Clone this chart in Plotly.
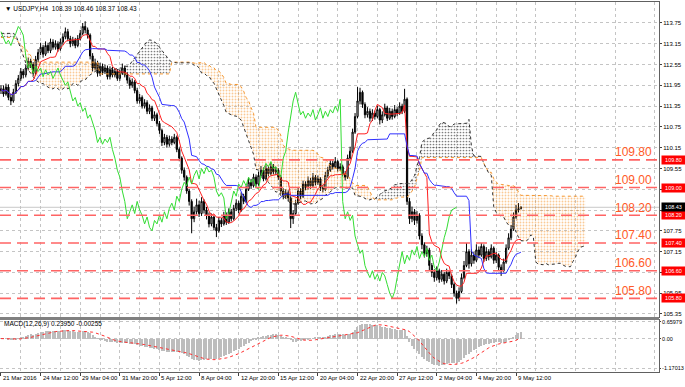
import plotly.graph_objects as go

# ---------------- data (USDJPY H4) ----------------
close = [
    111.85, 111.70, 111.90, 111.60, 111.50, 111.75, 112.00, 112.15, 112.35, 112.25,
    112.45, 112.65, 112.55, 112.30, 112.70, 112.90, 113.05, 112.85, 113.10, 112.95,
    113.20, 113.05, 113.15, 113.00, 113.20, 113.35, 113.50, 113.30, 113.15, 113.25,
    113.10, 113.30, 113.45, 113.65, 113.55, 113.40, 112.80, 112.45, 112.60, 112.30,
    112.50, 112.35, 112.45, 112.20, 112.40, 112.25, 112.35, 112.15, 112.30, 112.45,
    112.25, 112.10, 111.95, 112.05, 111.80, 111.50, 111.60, 111.35, 111.45, 111.20,
    111.30, 111.00, 111.10, 110.85, 110.65, 110.30, 110.45, 110.25, 110.40, 110.30,
    110.45, 110.10, 109.85, 109.50, 109.30, 108.90, 108.60, 108.10, 108.30, 108.50,
    108.25, 108.60, 108.35, 108.20, 107.95, 108.15, 107.85, 107.75, 108.05, 107.95,
    108.20, 108.00, 108.30, 108.10, 108.40, 108.55, 108.35, 108.75, 108.60, 108.95,
    109.15, 109.05, 109.30, 109.10, 109.35, 109.50, 109.25, 109.55, 109.40, 109.60,
    109.45, 109.50, 109.30, 108.90, 108.75, 108.85, 108.70, 108.10, 108.25, 108.55,
    108.90, 108.75, 109.10, 109.00, 109.20, 109.05, 109.30, 109.15, 109.25, 109.00,
    108.95, 109.35, 109.50, 109.70, 109.60, 109.75, 109.55, 109.60, 109.40, 109.30,
    109.85, 110.05, 110.60, 111.05, 111.50, 111.75, 111.40, 111.10, 111.20, 111.00,
    111.15, 111.05, 111.25, 110.95, 111.10, 111.30, 111.00, 111.20, 111.05, 111.25,
    111.15, 111.35, 111.20, 111.55, 108.60, 108.10, 108.30, 108.05, 108.20, 107.60,
    107.35, 107.10, 107.20, 106.75, 106.55, 106.40, 106.60, 106.35, 106.50, 106.30,
    106.55, 106.45, 106.20, 105.95, 105.80, 106.00, 106.40, 106.75, 107.15, 106.80,
    107.05, 106.90, 107.20, 107.05, 107.30, 106.95, 107.15, 107.00, 107.25, 106.90,
    107.05, 106.70, 106.60, 106.85, 107.25, 107.55, 107.80, 108.15, 108.35, 108.39,
    108.43,
]
open_ = [
    111.80, 111.85, 111.70, 111.90, 111.60, 111.50, 111.75, 112.00, 112.15, 112.35,
    112.25, 112.45, 112.65, 112.55, 112.30, 112.70, 112.90, 113.05, 112.85, 113.10,
    112.95, 113.20, 113.05, 113.15, 113.00, 113.20, 113.35, 113.50, 113.30, 113.15,
    113.25, 113.10, 113.30, 113.45, 113.65, 113.55, 113.40, 112.80, 112.45, 112.60,
    112.30, 112.50, 112.35, 112.45, 112.20, 112.40, 112.25, 112.35, 112.15, 112.30,
    112.45, 112.25, 112.10, 111.95, 112.05, 111.80, 111.50, 111.60, 111.35, 111.45,
    111.20, 111.30, 111.00, 111.10, 110.85, 110.65, 110.30, 110.45, 110.25, 110.40,
    110.30, 110.45, 110.10, 109.85, 109.50, 109.30, 108.90, 108.60, 108.10, 108.30,
    108.50, 108.25, 108.60, 108.35, 108.20, 107.95, 108.15, 107.85, 107.75, 108.05,
    107.95, 108.20, 108.00, 108.30, 108.10, 108.40, 108.55, 108.35, 108.75, 108.60,
    108.95, 109.15, 109.05, 109.30, 109.10, 109.35, 109.50, 109.25, 109.55, 109.40,
    109.60, 109.45, 109.50, 109.30, 108.90, 108.75, 108.85, 108.70, 108.10, 108.25,
    108.55, 108.90, 108.75, 109.10, 109.00, 109.20, 109.05, 109.30, 109.15, 109.25,
    109.00, 108.95, 109.35, 109.50, 109.70, 109.60, 109.75, 109.55, 109.60, 109.40,
    109.30, 109.85, 110.05, 110.60, 111.05, 111.50, 111.75, 111.40, 111.10, 111.20,
    111.00, 111.15, 111.05, 111.25, 110.95, 111.10, 111.30, 111.00, 111.20, 111.05,
    111.25, 111.15, 111.35, 111.20, 111.55, 108.60, 108.10, 108.30, 108.05, 108.20,
    107.60, 107.35, 107.10, 107.20, 106.75, 106.55, 106.40, 106.60, 106.35, 106.50,
    106.30, 106.55, 106.45, 106.20, 105.95, 105.80, 106.00, 106.40, 106.75, 107.15,
    106.80, 107.05, 106.90, 107.20, 107.05, 107.30, 106.95, 107.15, 107.00, 107.25,
    106.90, 107.05, 106.70, 106.60, 106.85, 107.25, 107.55, 107.80, 108.15, 108.35,
    108.39,
]
high = [
    111.95, 111.95, 112.00, 111.98, 111.70, 111.85, 112.10, 112.25, 112.45, 112.42,
    112.55, 112.75, 112.72, 112.62, 112.80, 113.00, 113.18, 113.12, 113.22, 113.18,
    113.30, 113.28, 113.25, 113.22, 113.30, 113.45, 113.62, 113.58, 113.38, 113.35,
    113.32, 113.40, 113.55, 113.75, 113.80, 113.62, 113.45, 112.88, 112.72, 112.66,
    112.60, 112.58, 112.55, 112.52, 112.50, 112.48, 112.45, 112.42, 112.40, 112.58,
    112.52, 112.32, 112.18, 112.15, 112.10, 111.88, 111.70, 111.66, 111.55, 111.52,
    111.40, 111.36, 111.20, 111.16, 110.92, 110.70, 110.55, 110.52, 110.50, 110.48,
    110.55, 110.50, 110.16, 109.90, 109.58, 109.35, 108.96, 108.66, 108.45, 108.68,
    108.62, 108.72, 108.66, 108.44, 108.28, 108.25, 108.22, 107.95, 108.15, 108.12,
    108.30, 108.28, 108.40, 108.38, 108.50, 108.66, 108.62, 108.86, 108.82, 109.05,
    109.28, 109.25, 109.40, 109.38, 109.46, 109.62, 109.58, 109.68, 109.62, 109.72,
    109.68, 109.60, 109.56, 109.36, 108.98, 108.95, 108.92, 108.75, 108.35, 108.65,
    109.00, 108.98, 109.20, 109.18, 109.32, 109.28, 109.42, 109.36, 109.35, 109.30,
    109.08, 109.45, 109.60, 109.82, 109.78, 109.88, 109.80, 109.70, 109.66, 109.48,
    109.95, 110.18, 110.70, 111.15, 111.90, 111.88, 111.80, 111.46, 111.32, 111.28,
    111.26, 111.22, 111.36, 111.30, 111.20, 111.42, 111.36, 111.30, 111.28, 111.38,
    111.32, 111.46, 111.42, 111.85, 111.60, 108.70, 108.45, 108.38, 108.32, 108.26,
    107.68, 107.42, 107.32, 107.26, 106.82, 106.64, 106.72, 106.66, 106.62, 106.56,
    106.66, 106.62, 106.50, 106.26, 106.02, 106.12, 106.52, 106.88, 107.40, 107.22,
    107.22, 107.15, 107.36, 107.30, 107.40, 107.36, 107.28, 107.22, 107.36, 107.30,
    107.15, 107.10, 106.78, 106.95, 107.36, 107.68, 107.92, 108.28, 108.50, 108.55,
    108.46,
]
low = [
    111.70, 111.62, 111.65, 111.52, 111.38, 111.45, 111.70, 111.92, 112.08, 112.15,
    112.18, 112.38, 112.45, 112.22, 112.25, 112.62, 112.82, 112.75, 112.80, 112.88,
    112.88, 112.98, 112.98, 112.92, 112.95, 113.12, 113.28, 113.22, 113.05, 113.08,
    113.02, 113.05, 113.25, 113.40, 113.45, 113.30, 112.70, 112.35, 112.38, 112.20,
    112.22, 112.25, 112.28, 112.12, 112.12, 112.18, 112.18, 112.08, 112.08, 112.25,
    112.18, 112.00, 111.85, 111.88, 111.72, 111.42, 111.42, 111.28, 111.28, 111.12,
    111.12, 110.92, 110.92, 110.78, 110.55, 110.20, 110.22, 110.15, 110.18, 110.22,
    110.25, 110.02, 109.76, 109.40, 109.20, 108.82, 108.48, 107.68, 108.00, 108.22,
    108.15, 108.18, 108.25, 108.08, 107.85, 107.88, 107.76, 107.57, 107.70, 107.86,
    107.90, 107.92, 107.95, 108.02, 108.05, 108.32, 108.26, 108.30, 108.52, 108.55,
    108.90, 108.96, 109.00, 109.02, 109.05, 109.28, 109.18, 109.20, 109.32, 109.35,
    109.38, 109.36, 109.22, 108.80, 108.66, 108.68, 108.60, 107.83, 107.95, 108.20,
    108.50, 108.66, 108.70, 108.92, 108.95, 108.96, 109.00, 109.06, 109.08, 108.90,
    108.86, 108.90, 109.28, 109.45, 109.52, 109.55, 109.46, 109.48, 109.32, 109.20,
    109.25, 109.78, 110.00, 110.55, 111.00, 111.40, 111.30, 111.00, 111.02, 110.90,
    110.92, 110.96, 111.00, 110.82, 110.86, 111.05, 110.92, 110.95, 110.96, 111.00,
    111.06, 111.10, 111.12, 111.15, 108.50, 107.95, 108.00, 107.92, 107.96, 107.50,
    107.22, 106.98, 107.00, 106.62, 106.42, 106.28, 106.32, 106.25, 106.28, 106.20,
    106.24, 106.36, 106.10, 105.85, 105.65, 105.72, 105.95, 106.35, 106.70, 106.66,
    106.72, 106.80, 106.85, 106.96, 107.00, 106.85, 106.88, 106.90, 106.95, 106.80,
    106.82, 106.60, 106.45, 106.55, 106.80, 107.20, 107.48, 107.75, 108.10, 108.28,
    108.37,
]

# Ichimoku leading spans for the first 78 displayed bars (their source bars lie before the chart)
senkou_a_early = [
    113.45, 113.45, 113.45, 113.45, 113.45, 113.45, 113.40, 113.20, 113.00, 112.80,
    112.60, 112.40, 112.30, 112.20, 112.10, 112.05, 112.00, 112.00, 111.95, 111.90,
    111.85, 111.85, 111.90, 111.85, 111.80, 111.85, 111.90, 111.85, 111.90, 112.00,
    112.00, 111.95, 112.05, 112.10, 112.10, 112.20, 112.25, 112.30, 112.35, 112.40,
    112.45, 112.45, 112.40, 112.45, 112.40, 112.45, 112.40, 112.45, 112.45, 112.45,
    112.50, 112.50, 112.55, 112.65, 112.75, 112.85, 112.95, 113.05, 113.15, 113.22,
    113.26, 113.25, 113.20, 113.15, 113.05, 112.95, 112.85, 112.75, 112.68, 112.62,
    112.60, 112.60, 112.60, 112.60, 112.60, 112.60, 112.60, 112.60,
]
senkou_b_early = [
    113.33, 113.33, 113.33, 113.33, 113.33, 113.33, 113.30, 113.20, 113.10, 113.05,
    113.00, 112.90, 112.80, 112.70, 112.62, 112.62, 112.62, 112.62, 112.62, 112.62,
    112.62, 112.62, 112.62, 112.62, 112.62, 112.62, 112.62, 112.62, 112.62, 112.62,
    112.62, 112.62, 112.62, 112.62, 112.62, 112.62, 112.62, 112.62, 112.62, 112.62,
    112.28, 112.28, 112.28, 112.28, 112.28, 112.28, 112.28, 112.28, 112.28, 112.28,
    112.28, 112.28, 112.28, 112.28, 112.28, 112.28, 112.28, 112.28, 112.28, 112.28,
    112.28, 112.28, 112.28, 112.28, 112.28, 112.28, 112.28, 112.28, 112.28, 112.62,
    112.62, 112.62, 112.62, 112.62, 112.62, 112.62, 112.62, 112.62,
]

symbol = "USDJPY,H4"
x_labels = ["21 Mar 2016", "24 Mar 12:00", "29 Mar 04:00", "31 Mar 20:00", "5 Apr 12:00",
            "8 Apr 04:00", "12 Apr 20:00", "15 Apr 12:00", "20 Apr 04:00", "22 Apr 20:00",
            "27 Apr 12:00", "2 May 04:00", "4 May 20:00", "9 May 12:00"]
price_tick_vals = [113.75, 113.15, 112.55, 111.95, 111.35, 110.75, 110.15, 109.55,
                   108.95, 108.35, 107.75, 107.15, 106.55, 105.95, 105.35]
price_tick_text = ["113.75", "113.15", "112.55", "111.95", "111.35", "110.75", "110.15", "109.55",
                   "", "", "107.75", "107.15", "", "105.95", "105.35"]
levels = [109.80, 109.00, 108.20, 107.40, 106.60, 105.80]
macd_tick_vals = [0.65979, 0.0, -1.17013]
macd_tick_text = ["0.65979", "0.00", "-1.17013"]
macd_title = "MACD(12,26,9) 0.23950 -0.00255"

# ---------------- indicators from the bars ----------------
n = len(close)
bars = list(range(n))
SHIFT = 26


def mid(i, period):
    s = max(0, i - period + 1)
    return (max(high[s:i + 1]) + min(low[s:i + 1])) / 2.0


tenkan = [mid(i, 9) for i in bars]
kijun = [mid(i, 26) for i in bars]
span_b_src = [mid(i, 52) for i in bars]

cloud_x = list(range(n + SHIFT))
senkou_a, senkou_b = [], []
n_early = len(senkou_a_early)
for j in cloud_x:
    if j < n_early:
        senkou_a.append(senkou_a_early[j])
        senkou_b.append(senkou_b_early[j])
    else:
        i = j - SHIFT
        senkou_a.append((tenkan[i] + kijun[i]) / 2.0)
        senkou_b.append(span_b_src[i])
cloud_top = [max(a, b) for a, b in zip(senkou_a, senkou_b)]

chikou_x = [i - SHIFT for i in bars if i >= SHIFT]
chikou_y = [close[i] for i in bars if i >= SHIFT]


def ema(vals, period):
    k = 2.0 / (period + 1)
    out = [vals[0]]
    for v in vals[1:]:
        out.append(k * v + (1 - k) * out[-1])
    return out


e12, e26 = ema(close, 12), ema(close, 26)
macd_main = [a - b for a, b in zip(e12, e26)]
macd_signal = []
for i in bars:
    s = max(0, i - 8)
    w = macd_main[s:i + 1]
    macd_signal.append(sum(w) / len(w))

# ---------------- figure ----------------
W, H = 685, 387
ML, MR, MT, MB = 0, 26, 2, 15
plot_w = W - ML - MR
plot_h = H - MT - MB


def py(pix):  # pixel row -> paper fraction
    return 1 - (pix - MT) / plot_h


main_dom = [py(317), 1.0]
macd_dom = [0.0, py(320)]

FONT = "Liberation Sans"
GRID = "#C4C4C4"
fig = go.Figure()

# cloud fills (dotted)
dots_orange = dict(shape=".", fgcolor="#F5962E", bgcolor="rgba(0,0,0,0)", size=3, solidity=0.3)
dots_black = dict(shape=".", fgcolor="#000000", bgcolor="rgba(0,0,0,0)", size=3, solidity=0.26)
fig.add_trace(go.Scatter(x=cloud_x, y=senkou_a, mode="lines", line=dict(width=0),
                         xaxis="x2", yaxis="y", hoverinfo="skip"))
fig.add_trace(go.Scatter(x=cloud_x, y=cloud_top, mode="lines", line=dict(width=0),
                         fill="tonexty", fillcolor="rgba(0,0,0,0)", fillpattern=dots_orange,
                         xaxis="x2", yaxis="y", hoverinfo="skip"))
fig.add_trace(go.Scatter(x=cloud_x, y=senkou_b, mode="lines", line=dict(width=0),
                         xaxis="x2", yaxis="y", hoverinfo="skip"))
fig.add_trace(go.Scatter(x=cloud_x, y=cloud_top, mode="lines", line=dict(width=0),
                         fill="tonexty", fillcolor="rgba(0,0,0,0)", fillpattern=dots_black,
                         xaxis="x2", yaxis="y", hoverinfo="skip"))
fig.add_trace(go.Scatter(x=cloud_x, y=senkou_b, mode="lines",
                         line=dict(color="#F5962E", width=1, dash="dot"), xaxis="x2", yaxis="y"))
fig.add_trace(go.Scatter(x=cloud_x, y=senkou_a, mode="lines",
                         line=dict(color="#303030", width=1, dash="dot"), xaxis="x2", yaxis="y"))

# candles
fig.add_trace(go.Candlestick(x=bars, open=open_, high=high, low=low, close=close,
                             increasing=dict(line=dict(color="#000000", width=1), fillcolor="#FFFFFF"),
                             decreasing=dict(line=dict(color="#000000", width=1), fillcolor="#000000"),
                             whiskerwidth=0, xaxis="x2", yaxis="y", hoverinfo="skip"))

# ichimoku lines
fig.add_trace(go.Scatter(x=bars, y=tenkan, mode="lines", line=dict(color="#FF2020", width=1),
                         xaxis="x2", yaxis="y"))
fig.add_trace(go.Scatter(x=bars, y=kijun, mode="lines", line=dict(color="#3030FF", width=1),
                         xaxis="x2", yaxis="y"))
fig.add_trace(go.Scatter(x=chikou_x, y=chikou_y, mode="lines", line=dict(color="#33DD33", width=1),
                         xaxis="x2", yaxis="y"))

# MACD
fig.add_trace(go.Bar(x=bars, y=macd_main, width=0.45, marker=dict(color="#BDBDBD", line=dict(width=0)),
                     xaxis="x", yaxis="y2", hoverinfo="skip"))
fig.add_trace(go.Scatter(x=bars, y=macd_signal, mode="lines",
                         line=dict(color="#FF3030", width=1, dash="dot"), xaxis="x", yaxis="y2"))

label_bars = [16 * k for k in range(len(x_labels))]
minor_bars = [16 * k + 8 for k in range(len(x_labels) + 3)]
x_range = [-0.4, (plot_w - 1) / 2.476]

xcommon = dict(range=x_range, tickvals=label_bars, ticktext=["" for _ in label_bars],
               showgrid=True, gridcolor=GRID, griddash="dot", gridwidth=1,
               minor=dict(tickvals=minor_bars, showgrid=True, gridcolor=GRID, griddash="dot", gridwidth=1),
               zeroline=False, rangeslider=dict(visible=False), fixedrange=True, automargin=False,
               showline=True, linecolor="#606060", linewidth=1, mirror=True)

shapes = []
for lv in levels:
    shapes.append(dict(type="line", xref="paper", x0=0, x1=1, yref="y", y0=lv, y1=lv,
                       line=dict(color="#FF6464", width=1.6, dash="11px,6px"), layer="above"))
shapes.append(dict(type="line", xref="paper", x0=0, x1=1, yref="y", y0=close[-1], y1=close[-1],
                   line=dict(color="#C8C8C8", width=1), layer="below"))
shapes.append(dict(type="rect", xref="paper", x0=0, x1=1, yref="paper", y0=macd_dom[1], y1=main_dom[0],
                   fillcolor="#808080", line=dict(width=0)))

SMALL = 6
ann = []
ann.append(dict(xref="paper", yref="paper", x=0.004, y=py(8), xanchor="left", yanchor="middle",
                text="\u25BC " + symbol + "  %.2f %.2f %.2f %.2f" % (open_[-1], high[-1], low[-1], close[-1]),
                showarrow=False, font=dict(family=FONT, size=SMALL + 0.5, color="#000000")))
ann.append(dict(xref="paper", yref="paper", x=0.003, y=py(324), xanchor="left", yanchor="middle",
                text=macd_title, showarrow=False, font=dict(family=FONT, size=SMALL + 0.5, color="#000000")))
for b, t in zip(label_bars, x_labels):
    ann.append(dict(xref="x", yref="paper", x=b, y=py(378), xanchor="left", yanchor="middle",
                    text=t, showarrow=False, font=dict(family=FONT, size=SMALL, color="#000000")))
for lv in levels:
    ann.append(dict(xref="paper", yref="y", x=654 / plot_w, y=lv, xanchor="right", yanchor="middle",
                    yshift=7.5, text="%.2f" % lv, showarrow=False,
                    font=dict(family=FONT, size=12, color="#FF5A28")))
    ann.append(dict(xref="paper", yref="y", x=660.5 / plot_w, y=lv, xanchor="left", yanchor="middle",
                    text="%.2f" % lv, showarrow=False, bgcolor="#FF0000", width=23, height=8,
                    borderpad=0, font=dict(family=FONT, size=5.5, color="#FFFFFF")))
ann.append(dict(xref="paper", yref="y", x=660.5 / plot_w, y=close[-1], xanchor="left", yanchor="middle",
                text="%.2f" % close[-1], showarrow=False, bgcolor="#000000", width=23, height=8,
                borderpad=0, font=dict(family=FONT, size=5.5, color="#FFFFFF")))

fig.update_layout(
    width=W, height=H, margin=dict(l=ML, r=MR, t=MT, b=MB, autoexpand=False),
    paper_bgcolor="#FFFFFF", plot_bgcolor="#FFFFFF", showlegend=False,
    xaxis=dict(domain=[0, 1], anchor="y2", ticks="outside", ticklen=3, tickcolor="#404040", **xcommon),
    xaxis2=dict(domain=[0, 1], anchor="y", matches="x", ticks="", **xcommon),
    yaxis=dict(domain=main_dom, range=[105.263, 114.356], side="right", anchor="x2",
               tickvals=price_tick_vals, ticktext=price_tick_text, ticks="outside", ticklen=2,
               tickcolor="#404040", tickfont=dict(family=FONT, size=SMALL, color="#000000"),
               showgrid=True, gridcolor=GRID, griddash="dot", zeroline=False, fixedrange=True,
               automargin=False, showline=True, linecolor="#606060", mirror=True),
    yaxis2=dict(domain=macd_dom, range=[-1.329, 0.739], side="right", anchor="x",
                tickvals=macd_tick_vals, ticktext=macd_tick_text, ticks="outside", ticklen=1,
                tickcolor="#404040", tickfont=dict(family=FONT, size=5.5, color="#000000"),
                showgrid=True, gridcolor=GRID, griddash="dot", zeroline=False, fixedrange=True,
                automargin=False, showline=True, linecolor="#606060", mirror=True),
    shapes=shapes, annotations=ann, bargap=0,
)

fig.write_html("out.html", config={"displayModeBar": False},
               post_script="document.body.style.margin='0px';document.body.style.padding='0px';")
